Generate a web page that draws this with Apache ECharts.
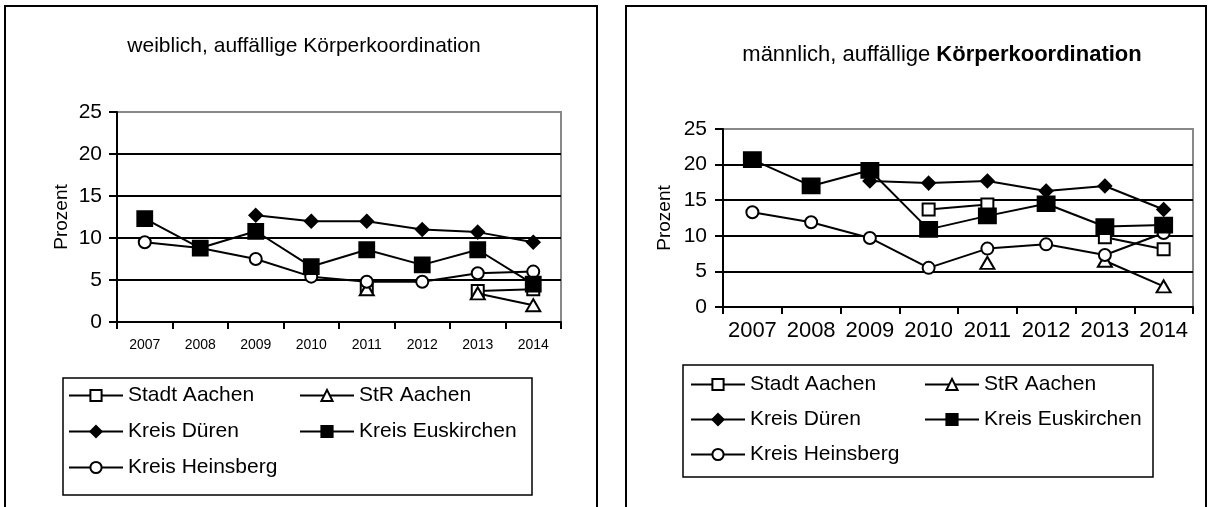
<!DOCTYPE html>
<html>
<head>
<meta charset="utf-8">
<script src="https://cdn.jsdelivr.net/npm/echarts@6/dist/echarts.min.js"></script>
<style>
  html, body { margin: 0; padding: 0; background: #fff; }
  #chart { width: 1213px; height: 507px; }
</style>
</head>
<body>
<div id="chart"></div>
<script>
// Jahre (x-Achse)
const years = ['2007', '2008', '2009', '2010', '2011', '2012', '2013', '2014'];
const yTicks = [0, 5, 10, 15, 20, 25];

// weiblich, auffällige Körperkoordination (Prozent)
const wStadtAachen     = [null, null, null, null, 4.3, null, 3.7, 3.9];
const wStrAachen       = [null, null, null, null, 3.9, null, 3.4, 2.0];
const wKreisDueren     = [null, null, 12.7, 12.0, 12.0, 11.0, 10.7, 9.5];
const wKreisEuskirchen = [12.3, 8.8, 10.8, 6.6, 8.6, 6.8, 8.6, 4.5];
const wKreisHeinsberg  = [9.5, 8.8, 7.5, 5.4, 4.8, 4.8, 5.8, 6.0];

// männlich, auffällige Körperkoordination (Prozent)
const mStadtAachen     = [null, null, null, 13.7, 14.4, null, 9.8, 8.1];
const mStrAachen       = [null, null, null, null, 6.2, null, 6.5, 2.9];
const mKreisDueren     = [null, null, 17.7, 17.4, 17.7, 16.3, 17.0, 13.7];
const mKreisEuskirchen = [20.7, 17.0, 19.2, 10.9, 12.8, 14.5, 11.3, 11.5];
const mKreisHeinsberg  = [13.3, 11.9, 9.7, 5.5, 8.2, 8.8, 7.3, 10.4];

const seriesNames = ['Stadt Aachen', 'StR Aachen', 'Kreis Düren', 'Kreis Euskirchen', 'Kreis Heinsberg'];

const FONT = '"Liberation Sans", Arial, sans-serif';

// marker per region; filled squares sit on top of the other marks
const markerStyles = {
  'Stadt Aachen':     { symbol: 'emptyRect', size: [12, 12], z: 3 },
  'StR Aachen':       { symbol: 'emptyTriangle', size: [14, 12], z: 4 },
  'Kreis Düren':      { symbol: 'diamond', size: [13, 13], z: 5 },
  'Kreis Euskirchen': { symbol: 'rect', size: [15, 15], z: 7 },
  'Kreis Heinsberg':  { symbol: 'emptyCircle', size: [12, 12], z: 6 }
};

function makeSeries(name, data, gridIdx) {
  const m = markerStyles[name];
  let size = m.size;
  if (gridIdx === 1 && name === 'Kreis Euskirchen') size = [17, 15];
  return {
    name: name,
    type: 'line',
    xAxisIndex: gridIdx,
    yAxisIndex: gridIdx,
    data: data,
    symbol: m.symbol,
    symbolSize: size,
    z: m.z,
    connectNulls: false,
    animation: false,
    lineStyle: { color: '#000', width: 2 },
    itemStyle: { color: '#000', borderColor: '#000', borderWidth: 1.8 },
    emphasis: { disabled: true }
  };
}

function xAxis(gridIdx, fontSize, margin) {
  return {
    type: 'category',
    gridIndex: gridIdx,
    data: years,
    boundaryGap: true,
    axisLine: { lineStyle: { color: '#000', width: 2 } },
    axisTick: { show: true, interval: 0, length: 7, lineStyle: { color: '#000', width: 2 } },
    axisLabel: { color: '#000', fontFamily: FONT, fontSize: fontSize, margin: margin, interval: 0 },
    splitLine: { show: false }
  };
}

function yAxis(gridIdx, nameGap, labelMargin) {
  return {
    type: 'value',
    gridIndex: gridIdx,
    min: yTicks[0],
    max: yTicks[yTicks.length - 1],
    interval: 5,
    name: 'Prozent',
    nameLocation: 'middle',
    nameRotate: 90,
    nameGap: nameGap,
    nameTextStyle: { color: '#000', fontFamily: FONT, fontSize: 19 },
    axisLine: { show: true, lineStyle: { color: '#000', width: 2 } },
    axisTick: { show: true, length: 8, lineStyle: { color: '#000', width: 2 } },
    axisLabel: { color: '#000', fontFamily: FONT, fontSize: 21, margin: labelMargin },
    splitLine: {
      show: true,
      lineStyle: { color: ['#000', '#000', '#000', '#000', '#000', '#888'], width: 2 }
    }
  };
}

function legendColumn(names, left, top, gap) {
  return {
    data: names,
    orient: 'vertical',
    left: left,
    top: top,
    itemWidth: 54,
    itemHeight: 14,
    itemGap: gap,
    padding: 0,
    selectedMode: false,
    textStyle: { color: '#000', fontFamily: FONT, fontSize: 21 }
  };
}

const chart = echarts.init(document.getElementById('chart'), null, { renderer: 'canvas' });

const series = [];
const wData = [wStadtAachen, wStrAachen, wKreisDueren, wKreisEuskirchen, wKreisHeinsberg];
const mData = [mStadtAachen, mStrAachen, mKreisDueren, mKreisEuskirchen, mKreisHeinsberg];
seriesNames.forEach((n, i) => series.push(makeSeries(n, wData[i], 0)));
seriesNames.forEach((n, i) => series.push(makeSeries(n, mData[i], 1)));

chart.setOption({
  backgroundColor: '#fff',
  animation: false,
  title: [
    {
      text: 'weiblich, auffällige Körperkoordination',
      left: 299, top: 31, textAlign: 'center',
      textStyle: { color: '#000', fontFamily: FONT, fontSize: 21, fontWeight: 'normal' }
    },
    {
      text: '{n|männlich, auffällige }{b|Körperkoordination}',
      left: 937, top: 39, textAlign: 'center',
      textStyle: {
        rich: {
          n: { color: '#000', fontFamily: FONT, fontSize: 22, fontWeight: 'normal' },
          b: { color: '#000', fontFamily: FONT, fontSize: 22, fontWeight: 'bold' }
        }
      }
    }
  ],
  grid: [
    { left: 117, top: 112, width: 444, height: 210, show: true, borderColor: '#888', borderWidth: 2, backgroundColor: 'transparent' },
    { left: 723, top: 129, width: 470, height: 178, show: true, borderColor: '#888', borderWidth: 2, backgroundColor: 'transparent' }
  ],
  xAxis: [xAxis(0, 14, 16), xAxis(1, 22, 13)],
  yAxis: [yAxis(0, 46, 15), yAxis(1, 49, 16)],
  legend: [
    legendColumn(['Stadt Aachen', 'Kreis Düren', 'Kreis Heinsberg'], 68, 385, 15),
    legendColumn(['StR Aachen', 'Kreis Euskirchen'], 299, 385, 15),
    legendColumn(['Stadt Aachen', 'Kreis Düren', 'Kreis Heinsberg'], 690, 374, 14),
    legendColumn(['StR Aachen', 'Kreis Euskirchen'], 924, 374, 14)
  ],
  graphic: [
    // panel frames
    { type: 'rect', shape: { x: 5, y: 6, width: 592, height: 520 }, style: { fill: 'none', stroke: '#000', lineWidth: 2 }, silent: true },
    { type: 'rect', shape: { x: 626, y: 6, width: 580, height: 520 }, style: { fill: 'none', stroke: '#000', lineWidth: 2 }, silent: true },
    // legend boxes
    { type: 'rect', shape: { x: 63, y: 378, width: 469, height: 117 }, style: { fill: 'none', stroke: '#000', lineWidth: 1.5 }, silent: true },
    { type: 'rect', shape: { x: 683, y: 365, width: 470, height: 112 }, style: { fill: 'none', stroke: '#000', lineWidth: 1.5 }, silent: true }
  ],
  series: series
});
</script>
</body>
</html>
